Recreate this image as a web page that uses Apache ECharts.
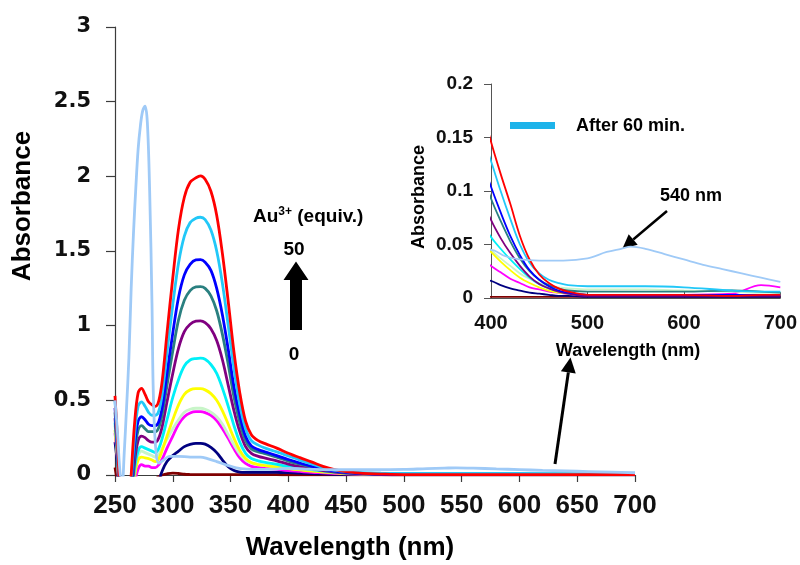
<!DOCTYPE html>
<html>
<head>
<meta charset="utf-8">
<script src="https://cdn.jsdelivr.net/npm/echarts@6/dist/echarts.min.js"></script>
<style>
  html, body { margin: 0; padding: 0; background: #fff; }
  #chart { width: 800px; height: 565px; }
</style>
</head>
<body>
<div id="chart"></div>
<script>
// Wavelength grid (nm) shared by the titration spectra
const wavelengths = [
  250, 252, 254, 257, 261, 264, 267, 270, 273, 276,
  279, 282, 285, 288, 291, 295, 300, 305, 310, 315,
  320, 324, 328, 333, 338, 343, 348, 353, 358, 363,
  368, 374, 380, 390, 400, 410, 420, 430, 440, 450,
  460, 470, 480, 500, 530, 560, 600, 650, 680, 700
];

// Absorbance spectra, from 50 equiv. Au3+ (red) down to 0 equiv. (dark red)
const absRed = [
  0.53, 0.25, -0.10, -0.50, -0.40, 0.00, 0.35, 0.55, 0.58, 0.54,
  0.49, 0.47, 0.46, 0.50, 0.64, 0.95, 1.32, 1.65, 1.86, 1.96,
  1.99, 2.003, 1.98, 1.90, 1.74, 1.48, 1.16, 0.82, 0.55, 0.36,
  0.27, 0.23, 0.21, 0.18, 0.146, 0.116, 0.088, 0.058, 0.036, 0.022,
  0.014, 0.009, 0.006, 0.003, 0.003, 0.003, 0.003, 0.002, 0.003, 0.003
];
const absSky = [
  0.50, 0.22, -0.12, -0.50, -0.45, -0.05, 0.27, 0.46, 0.49, 0.46,
  0.42, 0.40, 0.40, 0.43, 0.55, 0.82, 1.14, 1.42, 1.60, 1.69,
  1.72, 1.726, 1.71, 1.64, 1.50, 1.28, 1.00, 0.71, 0.47, 0.31,
  0.23, 0.20, 0.18, 0.155, 0.128, 0.100, 0.074, 0.050, 0.033, 0.023,
  0.017, 0.014, 0.012, 0.011, 0.011, 0.011, 0.010, 0.007, 0.006, 0.006
];
const absBlue = [
  0.45, 0.20, -0.13, -0.50, -0.45, -0.10, 0.20, 0.36, 0.39, 0.37,
  0.34, 0.33, 0.33, 0.36, 0.46, 0.68, 0.95, 1.19, 1.34, 1.41,
  1.44, 1.442, 1.425, 1.37, 1.25, 1.07, 0.84, 0.59, 0.40, 0.26,
  0.195, 0.17, 0.155, 0.13, 0.104, 0.080, 0.058, 0.040, 0.026, 0.017,
  0.011, 0.007, 0.005, 0.003, 0.003, 0.003, 0.003, 0.003, 0.003, 0.003
];
const absTeal = [
  0.42, 0.18, -0.14, -0.50, -0.45, -0.14, 0.15, 0.30, 0.33, 0.31,
  0.29, 0.29, 0.29, 0.32, 0.41, 0.60, 0.83, 1.04, 1.17, 1.235,
  1.26, 1.262, 1.25, 1.20, 1.10, 0.94, 0.74, 0.52, 0.35, 0.23,
  0.175, 0.155, 0.143, 0.12, 0.093, 0.072, 0.053, 0.037, 0.025, 0.017,
  0.012, 0.009, 0.007, 0.006, 0.006, 0.006, 0.006, 0.007, 0.006, 0.005
];
const absPurple = [
  0.38, 0.16, -0.15, -0.50, -0.45, -0.18, 0.09, 0.23, 0.26, 0.25,
  0.23, 0.22, 0.22, 0.25, 0.33, 0.49, 0.68, 0.85, 0.96, 1.01,
  1.03, 1.032, 1.02, 0.98, 0.90, 0.77, 0.60, 0.43, 0.29, 0.19,
  0.145, 0.125, 0.113, 0.095, 0.073, 0.056, 0.042, 0.030, 0.020, 0.013,
  0.009, 0.006, 0.004, 0.002, 0.002, 0.002, 0.002, 0.002, 0.002, 0.002
];
const absCyan = [
  0.35, 0.15, -0.16, -0.50, -0.45, -0.22, 0.04, 0.16, 0.19, 0.18,
  0.17, 0.16, 0.15, 0.18, 0.25, 0.37, 0.52, 0.64, 0.73, 0.77,
  0.78, 0.782, 0.775, 0.74, 0.68, 0.58, 0.46, 0.33, 0.22, 0.145,
  0.11, 0.095, 0.085, 0.072, 0.057, 0.046, 0.036, 0.027, 0.019, 0.013,
  0.009, 0.006, 0.004, 0.003, 0.003, 0.003, 0.003, 0.003, 0.003, 0.003
];
const absYellow = [
  0.30, 0.13, -0.18, -0.50, -0.45, -0.26, -0.01, 0.10, 0.12, 0.115,
  0.11, 0.10, 0.09, 0.11, 0.17, 0.26, 0.37, 0.47, 0.54, 0.57,
  0.578, 0.578, 0.57, 0.545, 0.50, 0.43, 0.34, 0.245, 0.165, 0.11,
  0.083, 0.070, 0.063, 0.053, 0.043, 0.034, 0.026, 0.019, 0.014, 0.010,
  0.007, 0.005, 0.004, 0.003, 0.003, 0.003, 0.003, 0.003, 0.003, 0.003
];
const absPale = [
  0.33, 0.14, -0.17, -0.50, -0.45, -0.24, 0.02, 0.13, 0.16, 0.15,
  0.14, 0.13, 0.12, 0.14, 0.18, 0.24, 0.31, 0.37, 0.42, 0.44,
  0.447, 0.447, 0.44, 0.42, 0.39, 0.34, 0.27, 0.20, 0.14, 0.10,
  0.080, 0.072, 0.066, 0.056, 0.045, 0.037, 0.030, 0.023, 0.018, 0.014,
  0.011, 0.010, 0.009, 0.008, 0.008, 0.008, 0.007, 0.006, 0.005, 0.005
];
const absMagenta = [
  0.28, 0.12, -0.19, -0.50, -0.45, -0.30, -0.06, 0.04, 0.07, 0.06,
  0.06, 0.05, 0.05, 0.07, 0.11, 0.18, 0.26, 0.34, 0.39, 0.415,
  0.424, 0.424, 0.418, 0.40, 0.365, 0.31, 0.245, 0.175, 0.115, 0.078,
  0.058, 0.050, 0.045, 0.038, 0.030, 0.024, 0.018, 0.014, 0.010, 0.008,
  0.006, 0.005, 0.004, 0.003, 0.003, 0.003, 0.003, 0.004, 0.012, 0.010
];
const absNavy = [
  0.22, 0.08, -0.20, -0.50, -0.50, -0.45, -0.40, -0.35, -0.30, -0.28,
  -0.25, -0.20, -0.13, -0.04, 0.03, 0.09, 0.13, 0.16, 0.19, 0.205,
  0.212, 0.212, 0.207, 0.185, 0.15, 0.10, 0.055, 0.030, 0.020, 0.018,
  0.018, 0.018, 0.018, 0.017, 0.016, 0.012, 0.009, 0.007, 0.005, 0.004,
  0.003, 0.002, 0.002, 0.001, 0.001, 0.001, 0.001, 0.001, 0.001, 0.001
];
const absDarkRed = [
  0.05, -0.05, -0.20, -0.50, -0.50, -0.45, -0.40, -0.30, -0.20, -0.15,
  -0.10, -0.06, -0.03, -0.01, 0.000, 0.008, 0.013, 0.010, 0.005, 0.003,
  0.002, 0.002, 0.002, 0.002, 0.002, 0.002, 0.002, 0.002, 0.002, 0.002,
  0.002, 0.002, 0.002, 0.002, 0.001, 0.001, 0.001, 0.001, 0.001, 0.001,
  0.001, 0.001, 0.001, 0.001, 0.001, 0.001, 0.001, 0.001, 0.001, 0.001
];

// Spectrum recorded 60 min after the last addition
const wavelengths60 = [
  250, 252, 254, 256, 258, 260, 262, 264, 266, 268,
  270, 272, 274, 276, 278, 280, 282, 283, 285, 288,
  292, 297, 305, 315, 324, 330, 338, 346, 355, 364,
  375, 390, 400, 415, 430, 450, 475, 500, 520, 535,
  545, 560, 580, 600, 620, 640, 660, 680, 700
];
const abs60 = [
  0.50, 0.30, 0.05, -0.10, 0.15, 0.45, 0.78, 1.25, 1.62, 1.92,
  2.18, 2.34, 2.44, 2.47, 2.36, 1.90, 1.15, 0.60, 0.20, 0.08,
  0.10, 0.125, 0.125, 0.12, 0.12, 0.11, 0.09, 0.068, 0.048, 0.040,
  0.038, 0.040, 0.045, 0.039, 0.036, 0.035, 0.035, 0.037, 0.043, 0.046,
  0.048, 0.046, 0.041, 0.036, 0.031, 0.027, 0.023, 0.019, 0.015
];

// Tick values
const mainXTicks = { min: 250, max: 700, step: 50 };
const mainYTicks = { min: 0, max: 3, step: 0.5 };
const insetXTicks = { min: 400, max: 700, step: 100 };
const insetYTicks = { min: 0, max: 0.2, step: 0.05 };

const titration = [
  { name: '0 equiv.', ys: absDarkRed, color: '#7f0000' },
  { name: 'navy', ys: absNavy, color: '#000080' },
  { name: 'magenta', ys: absMagenta, color: '#ff00ff' },
  { name: 'pale green', ys: absPale, color: '#c8f5c8' },
  { name: 'yellow', ys: absYellow, color: '#ffff00' },
  { name: 'cyan', ys: absCyan, color: '#00f0f8' },
  { name: 'purple', ys: absPurple, color: '#800080' },
  { name: 'teal', ys: absTeal, color: '#2a8080' },
  { name: 'blue', ys: absBlue, color: '#0000ff' },
  { name: 'sky', ys: absSky, color: '#22c8f8' },
  { name: '50 equiv.', ys: absRed, color: '#ff0000' }
];
const color60 = '#9fcaf7';

const FONT = "'Liberation Sans', Arial, sans-serif";

function pairs(xs, ys, from) {
  const out = [];
  xs.forEach((x, i) => { if (from === undefined || x >= from) out.push([x, ys[i]]); });
  return out;
}

const series = [];
titration.forEach(s => {
  series.push({
    type: 'line', xAxisIndex: 0, yAxisIndex: 0, name: s.name,
    data: pairs(wavelengths, s.ys), smooth: 0.35, symbol: 'none', clip: true,
    lineStyle: { color: s.color, width: 2.8 }, silent: true
  });
});
series.push({
  type: 'line', xAxisIndex: 0, yAxisIndex: 0, name: 'After 60 min.',
  data: pairs(wavelengths60, abs60), smooth: 0.35, symbol: 'none', clip: true,
  lineStyle: { color: color60, width: 2.8 }, silent: true
});
titration.forEach(s => {
  series.push({
    type: 'line', xAxisIndex: 1, yAxisIndex: 1, name: s.name + ' (inset)',
    data: pairs(wavelengths, s.ys, 390), smooth: 0.35, symbol: 'none', clip: true,
    lineStyle: { color: s.color, width: 1.8 }, silent: true
  });
});
series.push({
  type: 'line', xAxisIndex: 1, yAxisIndex: 1, name: 'After 60 min. (inset)',
  data: pairs(wavelengths60, abs60, 390), smooth: 0.35, symbol: 'none', clip: true,
  lineStyle: { color: color60, width: 1.8 }, silent: true
});

// Arrow made of a shaft and a triangular head
function arrow(x1, y1, x2, y2, width, headLen, headHalf) {
  const dx = x2 - x1, dy = y2 - y1, len = Math.hypot(dx, dy);
  const ux = dx / len, uy = dy / len, nx = -uy, ny = ux;
  const bx = x2 - ux * headLen, by = y2 - uy * headLen;
  return [
    { type: 'line', shape: { x1: x1, y1: y1, x2: bx, y2: by },
      style: { stroke: '#000', lineWidth: width } },
    { type: 'polygon', shape: { points: [[x2, y2], [bx + nx * headHalf, by + ny * headHalf], [bx - nx * headHalf, by - ny * headHalf]] },
      style: { fill: '#000' } }
  ];
}

function label(text, x, y, size, align, extra) {
  const a = align || 'center';
  return Object.assign({
    type: 'text', x: x, y: y,
    style: {
      text: text, font: 'bold ' + size + 'px ' + FONT, fill: '#000',
      align: a, verticalAlign: 'middle',
      textAlign: a, textVerticalAlign: 'middle'
    }
  }, extra || {});
}

const axisLineStyle = { color: '#3c3c3c', width: 1.2 };

const option = {
  animation: false,
  backgroundColor: '#ffffff',
  grid: [
    { left: 115, top: 27, width: 520, height: 448 },
    { left: 491, top: 84, width: 290, height: 214 }
  ],
  xAxis: [
    {
      type: 'value', gridIndex: 0, min: mainXTicks.min, max: mainXTicks.max, interval: mainXTicks.step,
      axisLine: { lineStyle: axisLineStyle },
      axisTick: { inside: false, length: 7, lineStyle: axisLineStyle },
      axisLabel: { fontFamily: FONT, fontWeight: 'bold', fontSize: 26, color: '#111', margin: 18 },
      splitLine: { show: false }
    },
    {
      type: 'value', gridIndex: 1, min: insetXTicks.min, max: insetXTicks.max, interval: insetXTicks.step,
      axisLine: { lineStyle: { color: '#555', width: 1 } },
      axisTick: { inside: true, length: 6, lineStyle: { color: '#555' } },
      axisLabel: { fontFamily: FONT, fontWeight: 'bold', fontSize: 20, color: '#111', margin: 15 },
      splitLine: { show: false }
    }
  ],
  yAxis: [
    {
      type: 'value', gridIndex: 0, min: mainYTicks.min, max: mainYTicks.max, interval: mainYTicks.step,
      axisLine: { show: true, lineStyle: axisLineStyle },
      axisTick: { show: true, inside: false, length: 9, lineStyle: axisLineStyle },
      axisLabel: { fontFamily: "'DejaVu Sans', sans-serif", fontWeight: 'bold', fontSize: 21, color: '#111', margin: 24 },
      splitLine: { show: false }
    },
    {
      type: 'value', gridIndex: 1, min: insetYTicks.min, max: insetYTicks.max, interval: insetYTicks.step,
      axisLine: { show: true, lineStyle: { color: '#555', width: 1 } },
      axisTick: { show: true, inside: false, length: 7, lineStyle: { color: '#555' } },
      axisLabel: { fontFamily: FONT, fontWeight: 'bold', fontSize: 19, color: '#111', margin: 18 },
      splitLine: { show: false }
    }
  ],
  series: series,
  graphic: {
    elements: [
      label('Absorbance', 23, 206, 26, 'center', { rotation: Math.PI / 2 }),
      label('Wavelength (nm)', 350, 548, 26),
      label('Absorbance', 419, 197, 18, 'center', { rotation: Math.PI / 2 }),
      label('Wavelength (nm)', 628, 351, 18),
      {
        type: 'text', x: 253, y: 217,
        style: {
          text: '{a|Au}{s|3+}{a| (equiv.)}',
          align: 'left', verticalAlign: 'middle', textAlign: 'left', textVerticalAlign: 'middle',
          rich: {
            a: { font: 'bold 19px ' + FONT, fill: '#000', lineHeight: 22 },
            s: { font: 'bold 12px ' + FONT, fill: '#000', verticalAlign: 'top', lineHeight: 14 }
          }
        }
      },
      label('50', 294, 250, 19),
      label('0', 294, 355, 19),
      { type: 'polygon', shape: { points: [[290, 330], [302, 330], [302, 280], [308.5, 280], [296, 261.5], [283.5, 280], [290, 280]] },
        style: { fill: '#000' } },
      { type: 'rect', shape: { x: 510, y: 122, width: 45, height: 7 }, style: { fill: '#1db3ea' } },
      label('After 60 min.', 576, 126, 18, 'left'),
      label('540 nm', 691, 196, 18)
    ]
      .concat(arrow(555, 464, 570.5, 357.5, 3, 15, 7.5))
      .concat(arrow(667, 211, 622.5, 248.5, 2.5, 14, 7))
  }
};

const chart = echarts.init(document.getElementById('chart'), null, { renderer: 'canvas' });
chart.setOption(option);
</script>
</body>
</html>
